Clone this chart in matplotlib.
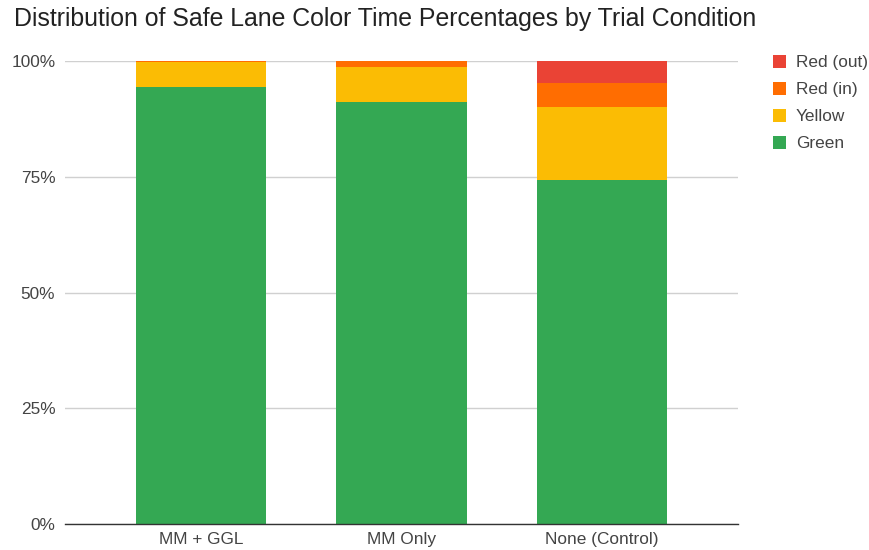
import matplotlib.pyplot as plt
import numpy as np

plt.rcParams['font.family'] = ['Liberation Sans', 'DejaVu Sans']

# Share of time (%) spent in each safe-lane color, per trial condition
conditions = ["MM + GGL", "MM Only", "None (Control)"]
green = [94.4, 91.1, 74.3]
yellow = [5.3, 7.6, 15.8]
red_in = [0.3, 1.3, 5.1]
red_out = [0.0, 0.0, 4.8]

series = [
    ("Green", green, "#34a853"),
    ("Yellow", yellow, "#fbbc04"),
    ("Red (in)", red_in, "#ff6d01"),
    ("Red (out)", red_out, "#ea4335"),
]

fig = plt.figure(figsize=(8.7, 5.5), dpi=100, facecolor="white")
ax = fig.add_axes([0.0747, 0.0473, 0.7733, 0.8417])

x = np.arange(len(conditions))
bottom = np.zeros(len(conditions))
handles = []
for name, vals, col in series:
    vals = np.array(vals)
    h = ax.bar(x, vals, width=0.65, bottom=bottom, color=col, label=name,
               zorder=3, linewidth=0)
    handles.append(h)
    bottom += vals

ax.set_xlim(-0.678, 2.678)
ax.set_ylim(0, 100)
ax.set_yticks([0, 25, 50, 75, 100])
ax.set_yticklabels(["0%", "25%", "50%", "75%", "100%"])
ax.set_xticks(x)
ax.set_xticklabels(conditions)
ax.tick_params(length=0, labelsize=12.4, labelcolor="#444444")
ax.tick_params(axis="y", pad=7)
ax.tick_params(axis="x", pad=6)

ax.grid(axis="y", color="#d0d0d0", linewidth=1, zorder=0)
for s in ["top", "right", "left"]:
    ax.spines[s].set_visible(False)
ax.spines["bottom"].set_color("#333333")
ax.spines["bottom"].set_linewidth(1)
ax.spines["bottom"].set_zorder(4)

fig.text(385 / 870, 1 - 19 / 550,
         "Distribution of Safe Lane Color Time Percentages by Trial Condition",
         ha="center", va="center", fontsize=17.9, color="#222222")

leg = fig.legend(handles[::-1], [s[0] for s in series][::-1],
                 loc="upper left", bbox_to_anchor=(766 / 870, 1 - 48 / 550),
                 frameon=False, fontsize=12.4, handlelength=0.75,
                 handleheight=0.75, handletextpad=0.58, labelspacing=0.68,
                 borderaxespad=0)
for t in leg.get_texts():
    t.set_color("#444444")

fig.savefig("out.png", dpi=100, facecolor="white")
